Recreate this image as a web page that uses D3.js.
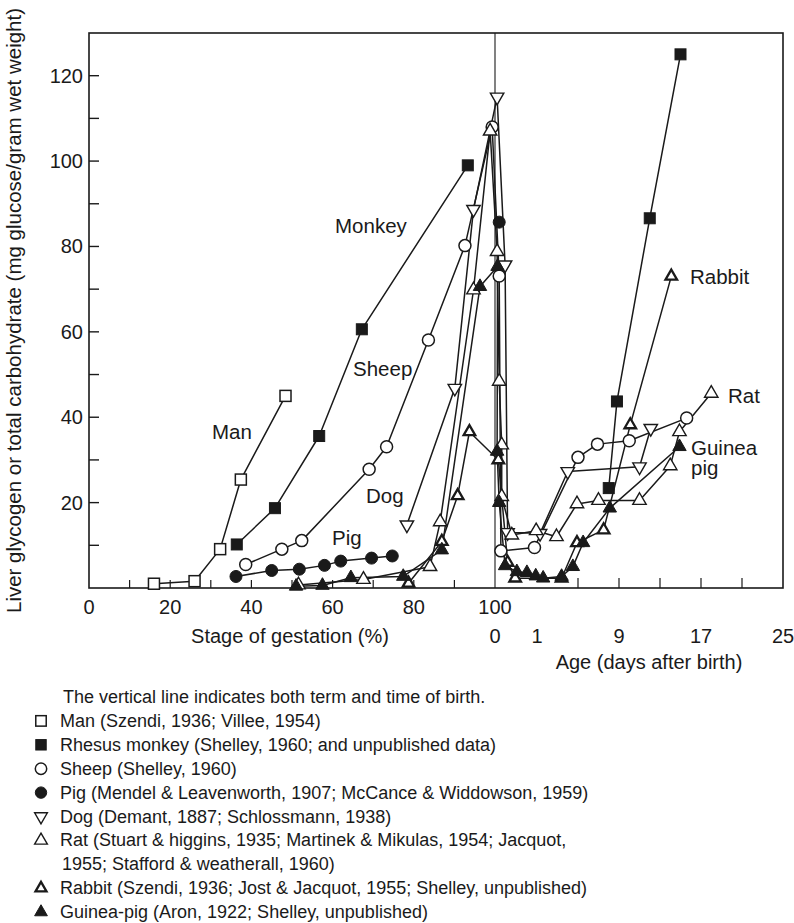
<!DOCTYPE html>
<html>
<head>
<meta charset="utf-8">
<script src="https://cdn.jsdelivr.net/npm/d3@7"></script>
<style>
  html, body { margin: 0; padding: 0; background: #fff; }
  svg text { font-family: "Liberation Sans", Arial, Helvetica, sans-serif; fill: #1a1a1a; }
</style>
</head>
<body>
<svg id="chart" width="794" height="923"></svg>
<script>
// ---- data: [stage of gestation %, mg/g] before birth, [days after birth, mg/g] after birth ----
const manBefore = [[16, 1.0], [26, 1.6], [32.3, 9.1], [37.4, 25.4], [48.4, 45.0]];
const manAfter = [];

const monkeyBefore = [[36.4, 10.2], [45.8, 18.7], [56.7, 35.6], [67.2, 60.6], [93.3, 99.0]];
const monkeyAfter = [[8.0, 23.4], [8.8, 43.7], [12.0, 86.6], [15.0, 125.0]];

const sheepBefore = [[38.6, 5.5], [47.5, 9.1], [52.4, 11.1], [69.0, 27.8], [73.3, 33.1], [83.6, 58.1], [92.6, 80.2], [99.3, 108]];
const sheepAfter = [[0.1, 73.1], [0.14, 8.7], [0.94, 9.5], [5.0, 30.6], [6.9, 33.7], [10.0, 34.5], [15.6, 39.8]];

const pigBefore = [[36.2, 2.7], [45.0, 4.1], [51.8, 4.4], [58.0, 5.3], [62.0, 6.3], [69.6, 7.0], [74.7, 7.5]];
const pigAfter = [[0.1, 85.7]];

const dogBefore = [[78.3, 14.8], [90.1, 46.8], [94.7, 88.7]];
const dogAfter = [[0.05, 115], [0.24, 75.7], [0.3, 13.0], [1.3, 12.8], [4.0, 27.3], [11.0, 28.4], [12.1, 37.4]];

const ratBefore = [[51.6, 0.7], [67.6, 2.0], [84.0, 5.0], [86.5, 15.5], [94.7, 69.8], [98.8, 107]];
const ratAfter = [[0.05, 78.8], [0.1, 48.4], [0.16, 33.5], [0.16, 21.4], [0.4, 12.4], [0.98, 13.4], [2.9, 12.0], [4.9, 19.7], [7.0, 20.5], [11.0, 20.5], [14.0, 28.6], [14.9, 36.6], [18.0, 45.6]];

const rabbitBefore = [[78.7, 1.1], [86.9, 10.9], [90.8, 21.6], [93.7, 36.6]];
const rabbitAfter = [[0.08, 30.0], [0.3, 6.0], [0.48, 2.3], [3.4, 2.3], [4.9, 10.6], [7.5, 13.6], [10.1, 38.2], [14.1, 73.0]];

const guineaBefore = [[51.0, 0.4], [57.5, 0.6], [64.5, 2.4], [77.4, 2.7], [86.9, 8.9], [96.3, 70.6]];
const guineaAfter = [[0.06, 75.3], [0.05, 32.0], [0.1, 20.0], [0.24, 5.2], [0.52, 3.8], [0.76, 3.6], [0.97, 2.8], [1.6, 2.3], [3.4, 2.7], [4.5, 5.0], [5.5, 10.6], [8.1, 18.7], [14.9, 33.1]];

// ---- axes ----
const gestTicks = [0, 20, 40, 60, 80, 100];
const gestMinor = [10, 20, 30, 40, 50, 60, 70, 80, 90];
const ageTicks = [0, 1, 9, 17, 25];
const ageMinor = [5, 9, 13, 17, 21];
const yTicks = [20, 40, 60, 80, 100, 120];
const yMinor = [10, 20, 30, 40, 50, 60, 70, 80, 90, 100, 110, 120];

const yTitle = "Liver glycogen or total carbohydrate (mg glucose/gram wet weight)";
const gestTitle = "Stage of gestation (%)";
const ageTitle = "Age (days after birth)";

// ---- in-chart series names ----
const curveLabels = [
  { text: "Monkey", x: 335, y: 233 },
  { text: "Sheep", x: 353, y: 376 },
  { text: "Man", x: 212, y: 439 },
  { text: "Dog", x: 366, y: 503 },
  { text: "Pig", x: 332, y: 545 },
  { text: "Rabbit", x: 690, y: 284 },
  { text: "Rat", x: 728, y: 403 },
  { text: "Guinea", x: 691, y: 455 },
  { text: "pig", x: 691, y: 475 }
];

const legendNote = "The vertical line indicates both term and time of birth.";

const series = [
  { key: "man", before: manBefore, after: manAfter, joined: false, mark: "squareOpen",
    legend: ["Man (Szendi, 1936; Villee, 1954)"] },
  { key: "monkey", before: monkeyBefore, after: monkeyAfter, joined: false, mark: "squareFill",
    legend: ["Rhesus monkey (Shelley, 1960; and unpublished data)"] },
  { key: "sheep", before: sheepBefore, after: sheepAfter, joined: true, mark: "circleOpen",
    legend: ["Sheep (Shelley, 1960)"] },
  { key: "pig", before: pigBefore, after: pigAfter, joined: false, mark: "circleFill",
    legend: ["Pig (Mendel & Leavenworth, 1907; McCance & Widdowson, 1959)"] },
  { key: "dog", before: dogBefore, after: dogAfter, joined: true, mark: "triDownOpen",
    legend: ["Dog (Demant, 1887; Schlossmann, 1938)"] },
  { key: "rat", before: ratBefore, after: ratAfter, joined: true, mark: "triOpen",
    legend: ["Rat (Stuart & higgins, 1935; Martinek & Mikulas, 1954; Jacquot,", "1955; Stafford & weatherall, 1960)"] },
  { key: "rabbit", before: rabbitBefore, after: rabbitAfter, joined: true, mark: "triBold",
    legend: ["Rabbit (Szendi, 1936; Jost & Jacquot, 1955; Shelley, unpublished)"] },
  { key: "guinea", before: guineaBefore, after: guineaAfter, joined: true, mark: "triFill",
    legend: ["Guinea-pig (Aron, 1922; Shelley, unpublished)"] }
];

// ---- layout ----
const INK = "#1a1a1a";
const frame = { left: 89, right: 783, top: 33, bottom: 588 };
const xGest = d3.scaleLinear().domain([0, 100]).range([frame.left, 495]);
const xAge = d3.scaleLinear().domain([0, 1, 25]).range([495, 537, frame.right]);
const y = d3.scaleLinear().domain([0, 130]).range([frame.bottom, frame.top]);

const svg = d3.select("#chart");
const g = svg.append("g");

// frame
g.append("rect")
  .attr("x", frame.left).attr("y", frame.top)
  .attr("width", frame.right - frame.left).attr("height", frame.bottom - frame.top)
  .attr("fill", "none").attr("stroke", INK).attr("stroke-width", 1.6);

// birth / term line
g.append("line")
  .attr("x1", xGest(100)).attr("x2", xGest(100))
  .attr("y1", frame.top).attr("y2", frame.bottom)
  .attr("stroke", INK).attr("stroke-width", 1.1);

// y ticks (inside) and labels
g.selectAll(".ytick").data(yMinor).join("line")
  .attr("x1", frame.left).attr("x2", frame.left + 10)
  .attr("y1", d => y(d)).attr("y2", d => y(d))
  .attr("stroke", INK).attr("stroke-width", 1.4);
g.selectAll(".ylab").data(yTicks).join("text")
  .attr("x", frame.left - 6).attr("y", d => y(d) + 7)
  .attr("text-anchor", "end").attr("font-size", 20)
  .text(d => d);

// gestation ticks and labels
g.selectAll(".gtick").data(gestMinor).join("line")
  .attr("x1", d => xGest(d)).attr("x2", d => xGest(d))
  .attr("y1", frame.bottom).attr("y2", frame.bottom - 8)
  .attr("stroke", INK).attr("stroke-width", 1.2);
g.selectAll(".glab").data(gestTicks).join("text")
  .attr("x", d => xGest(d)).attr("y", 614)
  .attr("text-anchor", "middle").attr("font-size", 20)
  .text(d => d);

// age ticks and labels
g.selectAll(".atick").data(ageMinor).join("line")
  .attr("x1", d => xAge(d)).attr("x2", d => xAge(d))
  .attr("y1", frame.bottom).attr("y2", frame.bottom - 10)
  .attr("stroke", INK).attr("stroke-width", 1.2);
g.selectAll(".alab").data(ageTicks).join("text")
  .attr("x", d => xAge(d)).attr("y", 643)
  .attr("text-anchor", "middle").attr("font-size", 20)
  .text(d => d);

// axis titles
g.append("text").attr("x", 290).attr("y", 643).attr("text-anchor", "middle")
  .attr("font-size", 20).text(gestTitle);
g.append("text").attr("x", 649).attr("y", 669).attr("text-anchor", "middle")
  .attr("font-size", 20).text(ageTitle);
g.append("text")
  .attr("transform", `translate(21, ${(frame.top + frame.bottom) / 2}) rotate(-90)`)
  .attr("text-anchor", "middle").attr("font-size", 20.5)
  .text(yTitle);

// ---- markers ----
function drawMark(sel, type, cx, cy, s) {
  const k = s || 1;
  const tri = d3.symbol().type(d3.symbolTriangle).size(78 * k * k)();
  const triSmall = d3.symbol().type(d3.symbolTriangle).size(58 * k * k)();
  switch (type) {
    case "squareOpen":
      sel.append("rect").attr("x", cx - 5.5 * k).attr("y", cy - 5.5 * k)
        .attr("width", 11 * k).attr("height", 11 * k)
        .attr("fill", "#fff").attr("stroke", INK).attr("stroke-width", 1.5);
      break;
    case "squareFill":
      sel.append("rect").attr("x", cx - 5.5 * k).attr("y", cy - 5.5 * k)
        .attr("width", 11 * k).attr("height", 11 * k)
        .attr("fill", INK).attr("stroke", INK).attr("stroke-width", 1);
      break;
    case "circleOpen":
      sel.append("circle").attr("cx", cx).attr("cy", cy).attr("r", 6 * k)
        .attr("fill", "#fff").attr("stroke", INK).attr("stroke-width", 1.5);
      break;
    case "circleFill":
      sel.append("circle").attr("cx", cx).attr("cy", cy).attr("r", 6 * k)
        .attr("fill", INK).attr("stroke", INK).attr("stroke-width", 1);
      break;
    case "triDownOpen":
      sel.append("path").attr("d", tri)
        .attr("transform", `translate(${cx},${cy}) rotate(180)`)
        .attr("fill", "#fff").attr("stroke", INK).attr("stroke-width", 1.4);
      break;
    case "triOpen":
      sel.append("path").attr("d", tri).attr("transform", `translate(${cx},${cy})`)
        .attr("fill", "#fff").attr("stroke", INK).attr("stroke-width", 1.4);
      break;
    case "triBold":
      sel.append("path").attr("d", triSmall).attr("transform", `translate(${cx},${cy})`)
        .attr("fill", "#fff").attr("stroke", INK).attr("stroke-width", 2.3)
        .attr("stroke-linejoin", "miter");
      break;
    case "triFill":
      sel.append("path").attr("d", tri).attr("transform", `translate(${cx},${cy})`)
        .attr("fill", INK).attr("stroke", INK).attr("stroke-width", 1);
      break;
  }
}

const line = d3.line().x(d => d[0]).y(d => d[1]);

function toPixels(s) {
  const pre = s.before.map(d => [xGest(d[0]), y(d[1])]);
  const post = s.after.map(d => [xAge(d[0]), y(d[1])]);
  return { pre, post };
}

const lineLayer = g.append("g");
const markLayer = g.append("g");

series.forEach(s => {
  const { pre, post } = toPixels(s);
  const paths = s.joined ? [pre.concat(post)] : [pre, post];
  paths.filter(p => p.length > 1).forEach(p => {
    lineLayer.append("path").attr("d", line(p))
      .attr("fill", "none").attr("stroke", INK).attr("stroke-width", 1.5)
      .attr("stroke-linejoin", "round");
  });
});
series.forEach(s => {
  const { pre, post } = toPixels(s);
  pre.concat(post).forEach(p => drawMark(markLayer, s.mark, p[0], p[1]));
});

// in-chart labels
curveLabels.forEach(l => {
  g.append("text").attr("x", l.x).attr("y", l.y).attr("font-size", 20.5).text(l.text);
});

// ---- legend ----
const legendX = 62;
const rowY0 = 703;
const rowStep = 23.9;
g.append("text").attr("x", legendX + 1).attr("y", rowY0).attr("font-size", 18).text(legendNote);
let row = 1;
series.forEach(s => {
  const cy = rowY0 + row * rowStep - 6;
  drawMark(g, s.mark, 41, cy, 0.95);
  s.legend.forEach((txt, i) => {
    g.append("text").attr("x", i === 0 ? 60 : 62).attr("y", rowY0 + row * rowStep)
      .attr("font-size", 18).text(txt);
    row += 1;
  });
});
</script>
</body>
</html>
